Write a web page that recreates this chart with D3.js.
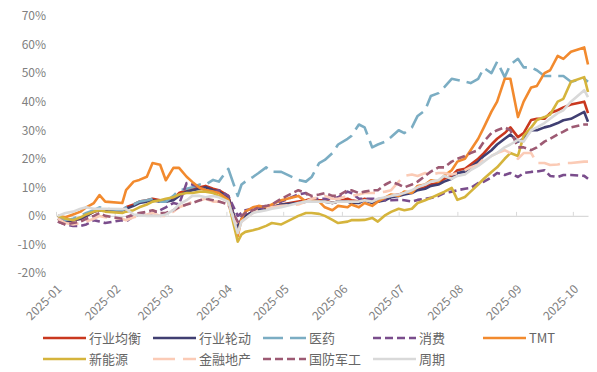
<!DOCTYPE html>
<html>
<head>
<meta charset="utf-8">
<script src="https://cdn.jsdelivr.net/npm/d3@7"></script>
<style>
  body { margin: 0; background: #fff; }
  svg { display: block; font-family: "Noto Sans CJK SC", "Noto Sans", sans-serif; }
</style>
</head>
<body>
<svg></svg>
<script>
// DATA (cumulative return, %)
let dates = [
  "2025-01-02","2025-01-06","2025-01-10","2025-01-14","2025-01-17","2025-01-21","2025-01-24","2025-01-27","2025-02-05","2025-02-07",
  "2025-02-11","2025-02-14","2025-02-18","2025-02-21","2025-02-25","2025-02-28","2025-03-04","2025-03-07","2025-03-11","2025-03-14",
  "2025-03-18","2025-03-21","2025-03-25","2025-03-28","2025-04-02","2025-04-07","2025-04-09","2025-04-11","2025-04-15","2025-04-18",
  "2025-04-22","2025-04-25","2025-04-30","2025-05-09","2025-05-13","2025-05-16","2025-05-20","2025-05-23","2025-05-27","2025-05-30",
  "2025-06-04","2025-06-06","2025-06-10","2025-06-13","2025-06-17","2025-06-20","2025-06-24","2025-06-27","2025-07-01","2025-07-04",
  "2025-07-08","2025-07-11","2025-07-15","2025-07-18","2025-07-22","2025-07-25","2025-07-29","2025-08-01","2025-08-05","2025-08-08",
  "2025-08-12","2025-08-15","2025-08-19","2025-08-22","2025-08-26","2025-08-29","2025-09-02","2025-09-05","2025-09-09","2025-09-12",
  "2025-09-16","2025-09-19","2025-09-23","2025-09-26","2025-09-30","2025-10-07","2025-10-09"]

let junheng = [
  -1,-2,-1.5,-1,0,1.5,2,2,2,3,
  4,5,5.5,6,5.5,5,6,8,9,9.5,
  10,10.5,9.5,9,7,-5,-1.5,0,1.5,2,
  3,3,4,5,5.5,6,5.5,5.5,4.5,5,
  6,5.5,5,6,5,5,6,7,7.5,8,
  8.5,9.5,10,11,11.5,13,14,16,16.5,18,
  20,22,25,27,29,31,27.6,29,33.6,34,
  34,36,37,38,39,40,36]
let lundong = [
  -1,-2,-1.5,-1,0,1.5,2,2,2,2.5,
  3.5,4.5,5,5.5,5,5,5.5,7,8.5,9,
  9.5,10,9,8.5,6.5,-4,-1,0,1.5,2,
  2.5,3,4,4.5,5,5.5,5,5,4.5,5,
  5,4.5,4.5,5.5,4.5,5,5.5,6.5,7,7.5,
  8,9,9.5,10.5,11,12,13,15,15.5,17,
  19,21,23,25,27,28.5,26,27,30,30,
  31,31.5,32.5,33.5,34,36.4,33]
let yiyao = [
  0,-1.5,-1,0,1,2,3,2.5,2,3,
  4,5,5.5,6,5,5,7,9,9.5,10,
  11,11,12.6,12,16.5,7,11,12,13.6,15,
  17,15.5,15.4,12.6,12,13.6,18.5,19.6,22,25,
  27,28,32,31,24,25,26,27.6,30,29,
  31,35,37,42,43,45,48,47.6,47,46.5,
  48,51.8,50,54,48.6,53,55,52,52,51,
  49,49,49,49,47,48,47]
let xiaofei = [
  -2,-3,-3.5,-3.5,-3,-1.5,-2,-2.5,-1.5,-2,
  0,0.5,0.5,1,2,3,4.5,4,11.5,11,
  10,9,8,9,7,0,1,2,2.5,3,
  2.5,3,5,7.5,8,6,6,6,6,6.5,
  8.5,8,6,6,6,6,5.5,5.5,5.6,5.5,
  5,5.6,6,6.3,7,8,8.5,9,9.5,9.8,
  11.5,12,13.5,15,14.3,15,13.6,15,15.4,15.5,
  16,14,13.6,14.3,14.3,14,13]
let tmt = [
  0,-0.5,0.5,1.5,3,4.5,7.3,5,4.5,9,
  12,12.6,13.7,18.5,17.9,12.5,16.8,16.8,13.7,11.9,
  9.8,9.1,8.5,8,5.6,-7,-1,1.5,3,3.5,
  3,4,5.5,7,5,5.5,5,3,2,3.5,
  3,4,3,4.5,3.5,5,6.5,7.5,7,8.5,
  8,10.5,11,12.5,12,14,16,19,20,23,
  27,31,36.5,40,48,48,34.6,40,45,45.5,
  50,51,56,55,57.5,59,53]
let xinnengyuan = [
  0,-1,-1.5,-0.5,0.5,1.5,2,1.5,1,1.5,
  2,3,4,5,5.5,6,6.5,7.5,8,8,
  8.5,8.5,8,7,5,-9,-6.5,-5.6,-5,-4.5,
  -3.5,-2.5,-3,0,1,1,0.7,0,-1.4,-2.5,
  -2,-1.5,-1.5,-1.4,-0.7,-2,0.3,1.4,2.5,2,
  2.5,4.5,5.5,6.3,7.5,8.4,9.8,5.6,6.6,8.5,
  11,13,15.4,17,20,22,21,28,31,33.6,
  34.6,35.5,40,41,47,48.6,43.4]
let jinrong = [
  -1,-2.5,-3,-2.5,-2,-1,0,-0.5,-1,-1.5,
  -0.5,0,0.5,1,0,0,1.5,3,4,5,
  5.5,6,5,5,4,-4,-2,-1,1,2,
  2.5,3,3.5,4,5,6,6.5,7,6,6,
  7,7,7.5,8,8,8,8.5,9,12,14,
  14.5,14,15,14.5,15,15,14.5,15,16,17,
  18,20,21,22,23,22,20,22,22,18.5,
  18.5,17.8,18,18.5,18.5,19,19]
let guofang = [
  -2,-3,-2.5,-2,-1,0,1,0,-1,-0.5,
  0.5,1,1.5,2,1,1,2,3,4,4.5,
  5.5,6,5.5,5,4,-2,0,1,2,3,
  3.5,4,6,9,8,7,7.5,8,7,7,
  9,9,8,8.5,9,9,11,12,11,10,
  11,12,14,15.5,17,17,19,20,21,22,
  23,26,29,30,31,30,24,24,23,24,
  26,27,28.5,29.5,31,32,32]
let zhouqi = [
  0,1,1.5,2.5,3,2.5,2.5,2.5,2.4,2.4,
  0.5,0.3,0,0,0,0.5,2,4,5.5,7,
  7,6.5,7,6.5,5,-6,-2,-1,1,1.5,
  2,2.5,3,4.5,5,5,5,5,4.5,5,
  5,5,5,5.5,5,6,6.5,7,7.5,8,
  9,10,11,12,12.5,14,13,14,14.5,16,
  17.5,19,21,22,24,25,26.6,26,30,31,
  32.5,34,36,37,40,44,41.6]

let yTicks = [-20, -10, 0, 10, 20, 30, 40, 50, 60, 70]
let monthTicks = ["2025-01","2025-02","2025-03","2025-04","2025-05","2025-06","2025-07","2025-08","2025-09","2025-10"]

let series = [
  { name: "行业均衡", values: junheng, color: "#c9381f", dash: null },
  { name: "行业轮动", values: lundong, color: "#403f72", dash: null },
  { name: "医药", values: yiyao, color: "#7badc3", dash: "20,7" },
  { name: "消费", values: xiaofei, color: "#7a4d8c", dash: "8,4" },
  { name: "TMT", values: tmt, color: "#f28a2e", dash: null },
  { name: "新能源", values: xinnengyuan, color: "#d5b43c", dash: null },
  { name: "金融地产", values: jinrong, color: "#fbcbb6", dash: "22,8" },
  { name: "国防军工", values: guofang, color: "#9d5a73", dash: "8,4" },
  { name: "周期", values: zhouqi, color: "#d9d9d9", dash: null }
]

let svgWidth = 597
let svgHeight = 372

let parseDate = d3.timeParse("%Y-%m-%d")
let parseMonth = d3.timeParse("%Y-%m")
let dateObjs = dates.map(parseDate)

// THE CONTAINER
let svg = d3.select("svg")
  .attr("width", svgWidth)
  .attr("height", svgHeight)

// SCALE
let xScale = d3.scaleTime()
  .domain([parseDate("2025-01-01"), dateObjs[dateObjs.length - 1]])
  .range([56, 588])

let yScale = d3.scaleLinear()
  .domain([-20, 70])
  .range([273, 16])

// Y AXIS (labels only)
let yAxis = d3.axisLeft(yScale)
  .tickValues(yTicks)
  .tickSize(0)
  .tickPadding(3)
  .tickFormat(d => d + "%")

let yG = svg.append("g")
  .attr("transform", "translate(49, 0)")
  .call(yAxis)
yG.select(".domain").remove()
yG.selectAll("text")
  .attr("fill", "#808080")
  .style("font-size", "12px")
  .style("font-family", "'Noto Sans CJK SC', sans-serif")

// X AXIS on the zero line, labels pushed down
let xAxis = d3.axisBottom(xScale)
  .tickValues(monthTicks.map(parseMonth))
  .tickSizeInner(-4)
  .tickSizeOuter(0)
  .tickFormat(d3.timeFormat("%Y-%m"))

let xG = svg.append("g")
  .attr("transform", `translate(0, ${yScale(0)})`)
  .call(xAxis)
xG.select(".domain").attr("stroke", "#d9d9d9").attr("stroke-width", 1.2)
xG.selectAll(".tick line").attr("stroke", "#d9d9d9")
xG.selectAll("text")
  .attr("fill", "#808080")
  .attr("text-anchor", "end")
  .attr("y", 0)
  .attr("dy", "0.35em")
  .attr("transform", "translate(3, 71) rotate(-45)")
  .style("font-size", "12px")
  .style("font-family", "'Noto Sans CJK SC', sans-serif")

// LINES
let line = d3.line()
  .x((d, i) => xScale(dateObjs[i]))
  .y(d => yScale(d))

svg.append("g")
  .selectAll("path")
  .data(series)
  .enter()
  .append("path")
  .attr("d", d => line(d.values))
  .attr("fill", "none")
  .attr("stroke", d => d.color)
  .attr("stroke-width", 2.6)
  .attr("stroke-linejoin", "round")
  .attr("stroke-dasharray", d => d.dash)

// LEGEND
let legend = svg.append("g")
  .selectAll("g")
  .data(series)
  .enter()
  .append("g")
  .attr("transform", (d, i) => {
    let col = i < 5 ? i : i - 5
    let row = i < 5 ? 0 : 1
    return `translate(${43 + col * 110}, ${338 + row * 21})`
  })

legend.append("line")
  .attr("x1", 0)
  .attr("x2", 43)
  .attr("stroke", d => d.color)
  .attr("stroke-width", 2.6)
  .attr("stroke-dasharray", d => d.dash)

legend.append("text")
  .attr("x", 46)
  .attr("dy", "0.35em")
  .attr("fill", "#666")
  .style("font-size", "13px")
  .text(d => d.name)
</script>
</body>
</html>
